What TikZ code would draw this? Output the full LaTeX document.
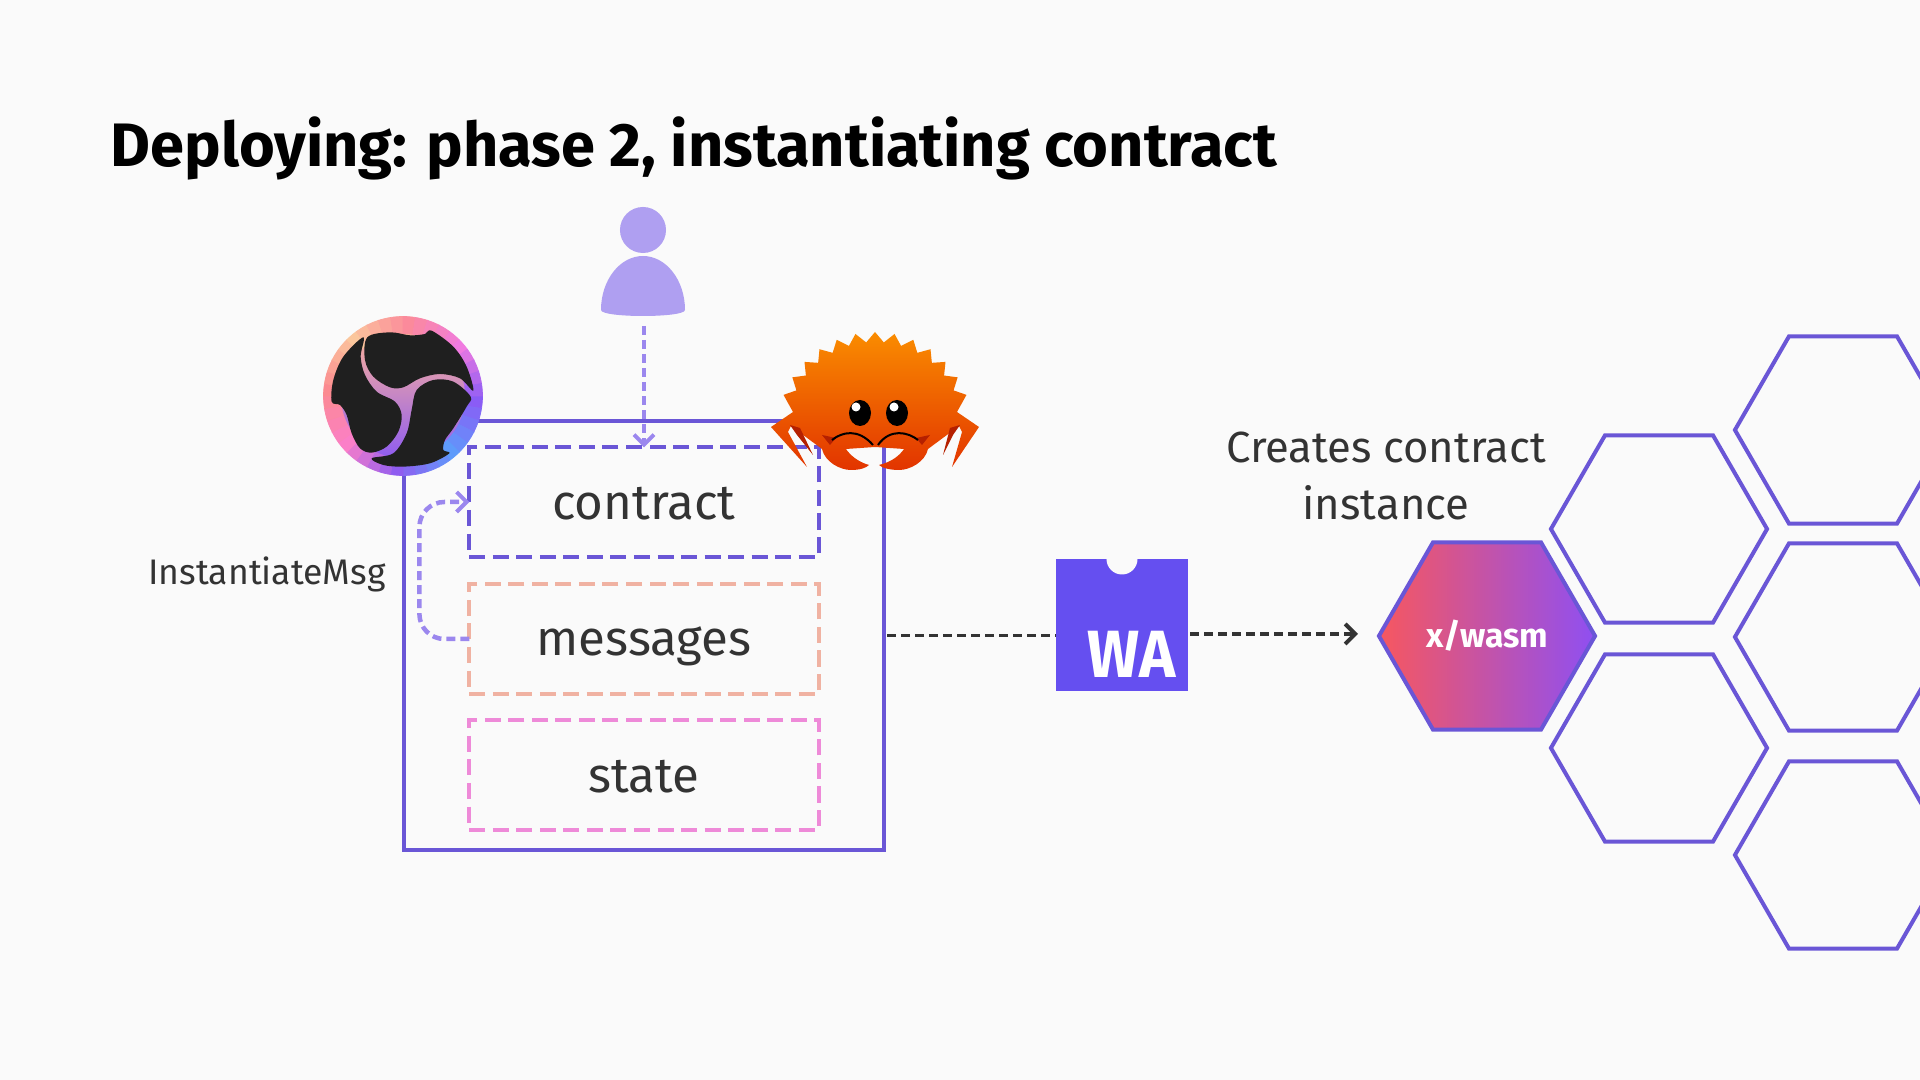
\documentclass[tikz,border=0pt]{standalone}
\usepackage{fontspec}
\setmainfont{Fira Sans}
\usetikzlibrary{arrows.meta,shapes.geometric}
\definecolor{pagebg}{HTML}{FAFAFA}
\definecolor{boxline}{HTML}{6A56D6}
\definecolor{softline}{HTML}{9B87EE}
\definecolor{inktext}{HTML}{333333}
\definecolor{msgline}{HTML}{F0B2A2}
\definecolor{stateline}{HTML}{EE8AD8}
\definecolor{walogo}{HTML}{654FF0}
\definecolor{hexleft}{HTML}{F7575F}
\definecolor{hexright}{HTML}{8F4FF2}
\definecolor{crabtop}{HTML}{FA8C00}
\definecolor{crabmid}{HTML}{FF5E00}
\definecolor{crabbot}{HTML}{E23400}
\definecolor{crabdark}{HTML}{B52000}
\definecolor{spiraltop}{HTML}{FBB09A}
\definecolor{spiralmid}{HTML}{EE7FD8}
\definecolor{spiralbot}{HTML}{8F5CF0}
\tikzset{
    txt/.style={text=inktext, font=\fontsize{#1}{#1}\selectfont, inner sep=0pt},
    partbox/.style={draw=#1, line width=.04cm, dash pattern=on .16cm off .075cm, minimum width=3.49cm, minimum height=1.09cm, outer sep=0pt, text=inktext, font=\fontsize{14}{14}\selectfont, text height=.36cm, text depth=.02cm},
    hexcell/.style={draw=boxline, line width=.04cm, regular polygon, regular polygon sides=6, minimum size=2.16cm, inner sep=0pt, outer sep=0pt},
    softlink/.style={draw=softline, line width=.045cm, dash pattern=on .09cm off .05cm, -{Straight Barb[length=.1cm,width=.2cm,line width=.04cm]}},
    darklink/.style={draw=inktext, line width=.038cm, dash pattern=on .09cm off .05cm}
}
\begin{document}
\begin{tikzpicture}[x=.01cm, y=-.01cm, declare function={gearr(\i)=93+5*(1-2*mod(abs(\i),2));}]
    \useasboundingbox (0,0) rectangle (1920,1080);
    \fill [pagebg] (0,0) rectangle (1920,1080);
    \node [anchor=west, inner sep=0pt, font=\bfseries\fontsize{17.45}{18}\selectfont] (title) at (110,148) {Deploying: phase 2, instantiating contract};
    % user
    \node [circle, fill=softline!80, minimum size=.46cm, inner sep=0pt] (head) at (643,230) {};
    \fill [softline!80] (601,310) .. controls (601,280) and (620,256) .. (643,256) .. controls (666,256) and (685,280) .. (685,310) .. controls (685,318) and (601,318) .. (601,310);
    \coordinate (user) at (644,326);
    % main box
    \node [draw=boxline, line width=.04cm, minimum width=4.8cm, minimum height=4.29cm, outer sep=0pt] (outer) at (644,635.5) {};
    \node [partbox=boxline] (contract) at (644,502) {contract};
    \node [partbox=msgline] (messages) at (644,639) {messages};
    \node [partbox=stateline] (state) at (644,775) {state};
    \draw [softlink] (user) -- (contract.north);
    \draw [softlink, rounded corners=.25cm] (messages.west) -- ++(-50,0) |- (contract.west);
    \node [txt=10.1] (instmsg) at (267,574) {InstantiateMsg};
    % logo ring
    \foreach \a/\ca/\cb in {0/8A5CF5/5E9BFB, 45/5E9BFB/8F5CF0, 90/8F5CF0/FB7FC8, 135/FB7FC8/FB8A90, 180/FB8A90/FBC69C, 225/FBC69C/FB8A9B, 270/FB8A9B/F07AE0, 315/F07AE0/8A5CF5} {
        \definecolor{ca}{HTML}{\ca}
        \definecolor{cb}{HTML}{\cb}
        \foreach \t in {0,20,...,80} {
            \fill [cb!\t!ca, draw=cb!\t!ca, line width=.2pt] (403,396) -- ([shift={(403,396)}]\a+\t*.45:79.5) arc (\a+\t*.45:\a+\t*.45+9:79.5) -- cycle;
        }
    }
    \shade [top color=spiraltop, middle color=spiralmid, bottom color=spiralbot] (403,396) circle [radius=62];
    % logo blobs
    \begin{scope}[shift={(310,300)}, scale=.3333]
        \fill [black!88] plot [smooth cycle, tension=.55] coordinates {(172,112) (240,97) (300,106) (345,102) (365,92) (430,140) (470,200) (490,272) (450,235) (390,222) (330,235) (280,262) (240,262) (190,230) (165,180)};
        \fill [black!88] plot [smooth cycle, tension=.55] coordinates {(160,112) (100,170) (70,240) (65,305) (90,315) (110,345) (125,400) (150,445) (185,458) (230,440) (265,395) (275,345) (255,305) (200,275) (165,225) (152,170)};
        \fill [black!88] plot [smooth cycle, tension=.55] coordinates {(185,475) (250,460) (290,400) (305,330) (320,270) (370,240) (430,245) (482,290) (470,320) (430,385) (405,420) (400,450) (418,460) (360,490) (280,500) (220,495)};
    \end{scope}
    % crab
    \shade [top color=crabtop, middle color=crabmid, bottom color=crabbot]
        plot [samples at={-12,-11,...,12}] ({875+gearr(\x)*cos(270+\x*5.75)},{430+gearr(\x)*sin(270+\x*5.75)})
        -- (957,412) -- (979,427) -- (952,467) -- (962,432) -- (959,426) -- (928,449)
        .. controls (925,462) and (910,470) .. (899,470) .. controls (890,470) and (882,468) .. (879,465)
        .. controls (892,462) and (900,455) .. (904,449) -- (875,447) -- (846,449)
        .. controls (850,455) and (858,462) .. (869,465) .. controls (866,468) and (860,470) .. (851,470)
        .. controls (840,470) and (825,462) .. (822,449) -- (791,426) -- (788,432) -- (807,467) -- (771,427) -- (793,412) -- cycle;
    \fill [crabdark] (790,425) -- (800,428) -- (813,455) -- (797,435) -- cycle;
    \fill [crabdark] (960,425) -- (950,428) -- (943,455) -- (953,435) -- cycle;
    \fill [crabdark] (822,435) -- (836,438) -- (830,445) -- cycle;
    \fill [crabdark] (930,435) -- (916,438) -- (922,445) -- cycle;
    \draw [black, line width=.02cm] (832,440) .. controls (842,432) and (858,428) .. (873,445);
    \draw [black, line width=.02cm] (878,445) .. controls (890,428) and (908,432) .. (918,440);
    \fill [black] (860,413) ellipse [x radius=11, y radius=13];
    \fill [black] (897,413) ellipse [x radius=11, y radius=13];
    \fill [white] (856,407) circle [radius=4.5];
    \fill [white] (894,407) circle [radius=4.5];
    % wasm logo
    \node [fill=walogo, minimum width=1.325cm, minimum height=1.32cm, outer sep=0pt] (wa) at (1122,625) {};
    \node [circle, fill=pagebg, minimum size=.31cm, inner sep=0pt] (notch) at (1122,559) {};
    \node [text=white, inner sep=0pt, font=\bfseries\fontsize{19}{19}\selectfont] (walabel) at (1132,654) {\scalebox{.92}[1]{WA}};
    \coordinate (wain) at (1056,635.5);
    \draw [darklink] (outer.east |- wain) ++(3,0) -- (wain);
    % hexagons
    \node [hexcell, left color=hexleft, right color=hexright, text=white, font=\bfseries\fontsize{9.6}{10}\selectfont] (wasm) at (1487,636) {x/wasm};
    \node [hexcell] (hexa) at (1659,529) {};
    \node [hexcell] (hexb) at (1659,748) {};
    \node [hexcell] (hexc) at (1843,430) {};
    \node [hexcell] (hexd) at (1843,637) {};
    \node [hexcell] (hexe) at (1843,855) {};
    \coordinate (hexin) at (1358,634);
    \draw [darklink, -{Straight Barb[length=.1cm,width=.2cm,line width=.04cm]}] (wa.east |- hexin) ++(2,0) -- (hexin);
    \node [txt=12.4] (creates) at (1386,447) {Creates contract};
    \node [txt=12.4] (instance) at (1386,503) {instance};
\end{tikzpicture}
\end{document}
